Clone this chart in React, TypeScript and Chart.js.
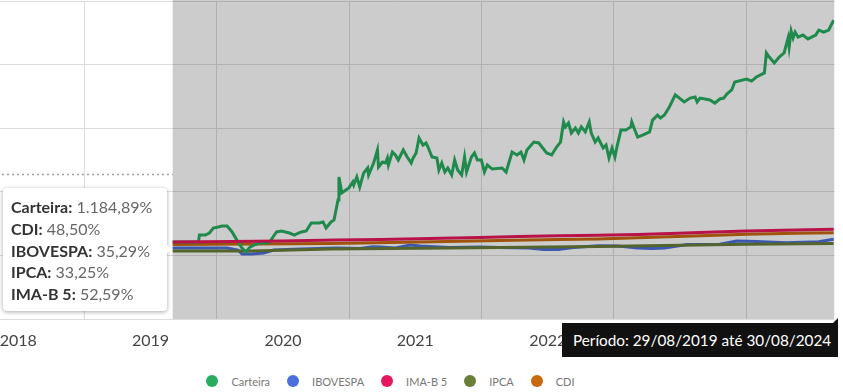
import React, { useEffect, useRef } from 'react';
import { Chart, registerables } from 'chart.js';

Chart.register(...registerables);

// ---- Data -----------------------------------------------------------------
const yearLabels = ['2018', '2019', '2020', '2021', '2022', '2023', '2024'];
const periodStart = 2019.667;
const periodEnd = 2024.665;
const markerLevel = 354;
const yGridValues = [-430, -86, 258, 602, 946, 1290];

const seriesNames = ['Carteira', 'IBOVESPA', 'IMA-B 5', 'IPCA', 'CDI'];
const seriesColors = ['#27ad60', '#4b6fde', '#e6175c', '#6a7e38', '#c8680f'];

const tooltipLabels = ['Carteira', 'CDI', 'IBOVESPA', 'IPCA', 'IMA-B 5'];
const tooltipValues = ['1.184,89%', '48,50%', '35,29%', '33,25%', '52,59%'];
const periodText = 'Período: 29/08/2019 até 30/08/2024';

const carteiraT = [
  2019.667, 2019.742, 2019.817, 2019.862, 2019.869, 2019.914, 2019.944, 2019.974, 2020.011, 2020.041,
  2020.078, 2020.116, 2020.161, 2020.191, 2020.220, 2020.250, 2020.280, 2020.325, 2020.370, 2020.400,
  2020.430, 2020.452, 2020.490, 2020.549, 2020.587, 2020.617, 2020.639, 2020.676, 2020.714, 2020.774,
  2020.803, 2020.826, 2020.863, 2020.886, 2020.901, 2020.916, 2020.923, 2020.945, 2020.975, 2020.998,
  2021.028, 2021.035, 2021.058, 2021.080, 2021.110, 2021.140, 2021.147, 2021.185, 2021.214, 2021.222,
  2021.252, 2021.274, 2021.289, 2021.297, 2021.327, 2021.349, 2021.371, 2021.409, 2021.439, 2021.469,
  2021.484, 2021.506, 2021.528, 2021.558, 2021.581, 2021.596, 2021.626, 2021.663, 2021.678, 2021.700,
  2021.723, 2021.745, 2021.775, 2021.797, 2021.820, 2021.850, 2021.872, 2021.887, 2021.924, 2021.947,
  2021.969, 2021.999, 2022.022, 2022.044, 2022.081, 2022.156, 2022.186, 2022.231, 2022.268, 2022.298,
  2022.321, 2022.343, 2022.395, 2022.433, 2022.492, 2022.530, 2022.567, 2022.597, 2022.620, 2022.634,
  2022.657, 2022.679, 2022.709, 2022.732, 2022.754, 2022.784, 2022.814, 2022.829, 2022.859, 2022.881,
  2022.919, 2022.941, 2022.963, 2022.986, 2023.008, 2023.023, 2023.053, 2023.090, 2023.128, 2023.135,
  2023.158, 2023.180, 2023.217, 2023.270, 2023.292, 2023.330, 2023.352, 2023.382, 2023.419, 2023.464,
  2023.531, 2023.576, 2023.614, 2023.629, 2023.651, 2023.726, 2023.763, 2023.800, 2023.830, 2023.853,
  2023.890, 2023.913, 2024.002, 2024.040, 2024.077, 2024.137, 2024.152, 2024.174, 2024.212, 2024.249,
  2024.286, 2024.316, 2024.324, 2024.339, 2024.354, 2024.369, 2024.391, 2024.428, 2024.466, 2024.525,
  2024.548, 2024.585, 2024.623, 2024.660,
];
const carteiraV = [
  -14, -14, -14, -14, 24, 24, 35, 62, 68, 73,
  73, 41, -14, -46, -68, -41, -30, -19, -19, -14,
  19, 41, 46, 35, 24, 35, 41, 46, 89, 89,
  95, 62, 95, 106, 160, 214, 338, 252, 268, 279,
  311, 295, 338, 284, 360, 387, 349, 414, 484, 392,
  419, 414, 441, 403, 473, 457, 430, 484, 446, 414,
  441, 468, 549, 511, 522, 500, 446, 441, 376, 414,
  365, 387, 349, 430, 376, 349, 446, 365, 446, 468,
  430, 430, 365, 403, 381, 387, 365, 473, 457, 473,
  430, 484, 527, 522, 468, 457, 500, 527, 636, 609,
  630, 576, 603, 576, 609, 582, 636, 576, 527, 549,
  495, 511, 441, 495, 446, 500, 592, 592, 609, 636,
  592, 554, 565, 582, 646, 673, 657, 673, 717, 782,
  744, 765, 771, 744, 765, 755, 738, 760, 765, 787,
  809, 852, 868, 857, 879, 901, 1009, 987, 955, 987,
  1009, 1090, 1041, 1128, 1090, 1122, 1095, 1106, 1085, 1106,
  1133, 1122, 1133, 1187,
];

const ibovT = [
  2019.667, 2019.892, 2020.078, 2020.161, 2020.191, 2020.265, 2020.355, 2020.430, 2020.639, 2020.901,
  2021.084, 2021.177, 2021.237, 2021.349, 2021.461, 2021.536, 2021.760, 2021.984, 2022.134, 2022.358,
  2022.470, 2022.582, 2022.694, 2022.881, 2023.031, 2023.180, 2023.292, 2023.382, 2023.554, 2023.800,
  2023.928, 2024.077, 2024.301, 2024.548, 2024.660,
];
const ibovV = [
  -46, -46, -46, -57, -78, -78, -73, -57, -51, -46,
  -49, -39, -41, -46, -30, -35, -43, -41, -43, -46,
  -54, -54, -43, -34, -35, -46, -49, -46, -27, -26,
  -8, -11, -17, -12, 1,
];

const imaT = [
  2019.667, 2020.116, 2020.490, 2020.901, 2021.237, 2021.611, 2021.984, 2022.283, 2022.582, 2022.881,
  2023.180, 2023.427, 2023.703, 2024.002, 2024.376, 2024.660,
];
const imaV = [-13, -11, -8, -3, 0, 5, 11, 16, 20, 23, 27, 33, 39, 46, 51, 55];

const ipcaT = [2019.667, 2020.265, 2020.863, 2021.760, 2022.881, 2023.629, 2024.002, 2024.660];
const ipcaV = [-62, -62, -51, -46, -38, -30, -26, -21];

const cdiT = [
  2019.667, 2020.265, 2020.863, 2021.536, 2022.134, 2022.582, 2022.881, 2023.479, 2024.002, 2024.376,
  2024.660,
];
const cdiV = [-27, -24, -21, -14, -5, 0, 3, 16, 28, 34, 37];

// ---- Helpers ---------------------------------------------------------------
const pts = (t: number[], v: number[]) => t.map((x, i) => ({ x, y: v[i] }));
const firstYear = Number(yearLabels[0]);
const xTickValues: number[] = [];
yearLabels.forEach((y) => {
  xTickValues.push(Number(y));
  xTickValues.push(Number(y) + 0.5);
});

const FONT = 'Lato, "Noto Sans", sans-serif';

const overlayPlugin = {
  id: 'periodOverlay',
  afterDatasetsDraw(chart: any) {
    const { ctx, chartArea: a, scales } = chart;
    const xs = scales.x.getPixelForValue(periodStart);
    ctx.save();
    ctx.fillStyle = 'rgba(0,0,0,0.2)';
    ctx.fillRect(xs, a.top - 1, a.right - xs, a.bottom - a.top + 1);
    const yy = Math.round(scales.y.getPixelForValue(markerLevel)) + 0.5;
    ctx.setLineDash([2, 3]);
    ctx.strokeStyle = '#a0a0a0';
    ctx.lineWidth = 1.5;
    ctx.beginPath();
    ctx.moveTo(a.left, yy);
    ctx.lineTo(xs, yy);
    ctx.stroke();
    ctx.restore();
  },
};

function ChartCanvas() {
  const ref = useRef<HTMLCanvasElement | null>(null);
  useEffect(() => {
    if (!ref.current) return;
    const mk = (i: number, data: any, order: number) => ({
      label: seriesNames[i],
      data,
      borderColor: seriesColors[i],
      backgroundColor: seriesColors[i],
      borderWidth: 3,
      pointRadius: 0,
      tension: 0,
      order,
    });
    const chart = new Chart(ref.current, {
      type: 'line',
      data: {
        datasets: [
          mk(0, pts(carteiraT, carteiraV), 1),
          mk(1, pts(ibovT, ibovV), 4),
          mk(2, pts(imaT, imaV), 0),
          mk(3, pts(ipcaT, ipcaV), 3),
          mk(4, pts(cdiT, cdiV), 2),
        ],
      },
      options: {
        responsive: false,
        maintainAspectRatio: false,
        animation: false,
        layout: { padding: { left: 7, right: 5, top: 1, bottom: 6 } },
        plugins: { legend: { display: false }, tooltip: { enabled: false } },
        scales: {
          x: {
            type: 'linear',
            min: firstYear,
            max: periodEnd,
            afterBuildTicks: (scale: any) => {
              scale.ticks = xTickValues.filter((v) => v <= periodEnd).map((value) => ({ value }));
            },
            afterFit: (scale: any) => {
              scale.height = 30;
            },
            grid: {
              color: (c: any) =>
                c.tick && Number.isInteger(c.tick.value) ? '#dcdcdc' : 'rgba(0,0,0,0)',
              drawTicks: false,
              lineWidth: 1,
            },
            border: { display: false },
            ticks: {
              autoSkip: false,
              maxRotation: 0,
              padding: 12,
              color: '#444',
              font: { family: FONT, size: 16 },
              callback: (v: any) => (Number.isInteger(v) ? '' : String(Math.floor(v))),
            },
          },
          y: {
            type: 'linear',
            min: yGridValues[0],
            max: yGridValues[yGridValues.length - 1],
            afterBuildTicks: (scale: any) => {
              scale.ticks = yGridValues.map((value) => ({ value }));
            },
            afterFit: (scale: any) => {
              scale.width = 0;
              scale.paddingTop = 0;
              scale.paddingBottom = 0;
            },
            grid: { color: '#dcdcdc', drawTicks: false, lineWidth: 1 },
            border: { display: false },
            ticks: { display: false },
          },
        },
      },
      plugins: [overlayPlugin],
    } as any);
    return () => chart.destroy();
  }, []);
  return (
    <canvas
      ref={ref}
      width={903}
      height={355}
      style={{ position: 'absolute', left: -60, top: 0, width: 903, height: 355 }}
    />
  );
}

export default function App() {
  return (
    <div
      style={{
        position: 'absolute',
        left: 0,
        top: 0,
        width: 843,
        height: 392,
        overflow: 'hidden',
        background: '#fff',
        fontFamily: FONT,
      }}
    >
      <ChartCanvas />
      {/* tooltip */}
      <div
        style={{
          position: 'absolute',
          left: 3,
          top: 188,
          width: 164,
          height: 123,
          boxSizing: 'border-box',
          background: '#fff',
          borderRadius: 4,
          boxShadow: '0 1px 4px rgba(0,0,0,0.35)',
          padding: '8px 0 0 8px',
          fontSize: 16,
          lineHeight: '21.8px',
          whiteSpace: 'nowrap',
        }}
      >
        {tooltipLabels.map((l, i) => (
          <div key={l}>
            <span style={{ fontWeight: 700, color: '#333' }}>{l}:</span>
            <span style={{ color: '#666' }}> {tooltipValues[i]}</span>
          </div>
        ))}
        <div
          style={{
            position: 'absolute',
            right: -4,
            top: 57,
            width: 0,
            height: 0,
            borderTop: '4px solid transparent',
            borderBottom: '4px solid transparent',
            borderLeft: '4px solid #fff',
          }}
        />
      </div>
      {/* period box */}
      <div
        style={{
          position: 'absolute',
          left: 562,
          top: 323,
          width: 276,
          height: 34,
          boxSizing: 'border-box',
          background: '#111',
          color: '#fff',
          fontSize: 15.3,
          lineHeight: '34px',
          paddingLeft: 11,
          whiteSpace: 'nowrap',
        }}
      >
        {periodText}
        <div
          style={{
            position: 'absolute',
            right: 0,
            top: -5,
            width: 0,
            height: 0,
            borderLeft: '5px solid transparent',
            borderBottom: '5px solid #111',
          }}
        />
      </div>
      {/* legend */}
      <div
        style={{
          position: 'absolute',
          left: 0,
          top: 372,
          width: 781,
          height: 18,
          display: 'flex',
          justifyContent: 'center',
          alignItems: 'center',
          fontSize: 11,
          color: '#777',
        }}
      >
        {seriesNames.map((n, i) => (
          <div key={n} style={{ display: 'flex', alignItems: 'center', marginRight: i < seriesNames.length - 1 ? 17 : 0 }}>
            <span
              style={{
                display: 'inline-block',
                width: 12,
                height: 12,
                borderRadius: 6,
                background: seriesColors[i],
                marginRight: 13,
              }}
            />
            <span>{n}</span>
          </div>
        ))}
      </div>
    </div>
  );
}
